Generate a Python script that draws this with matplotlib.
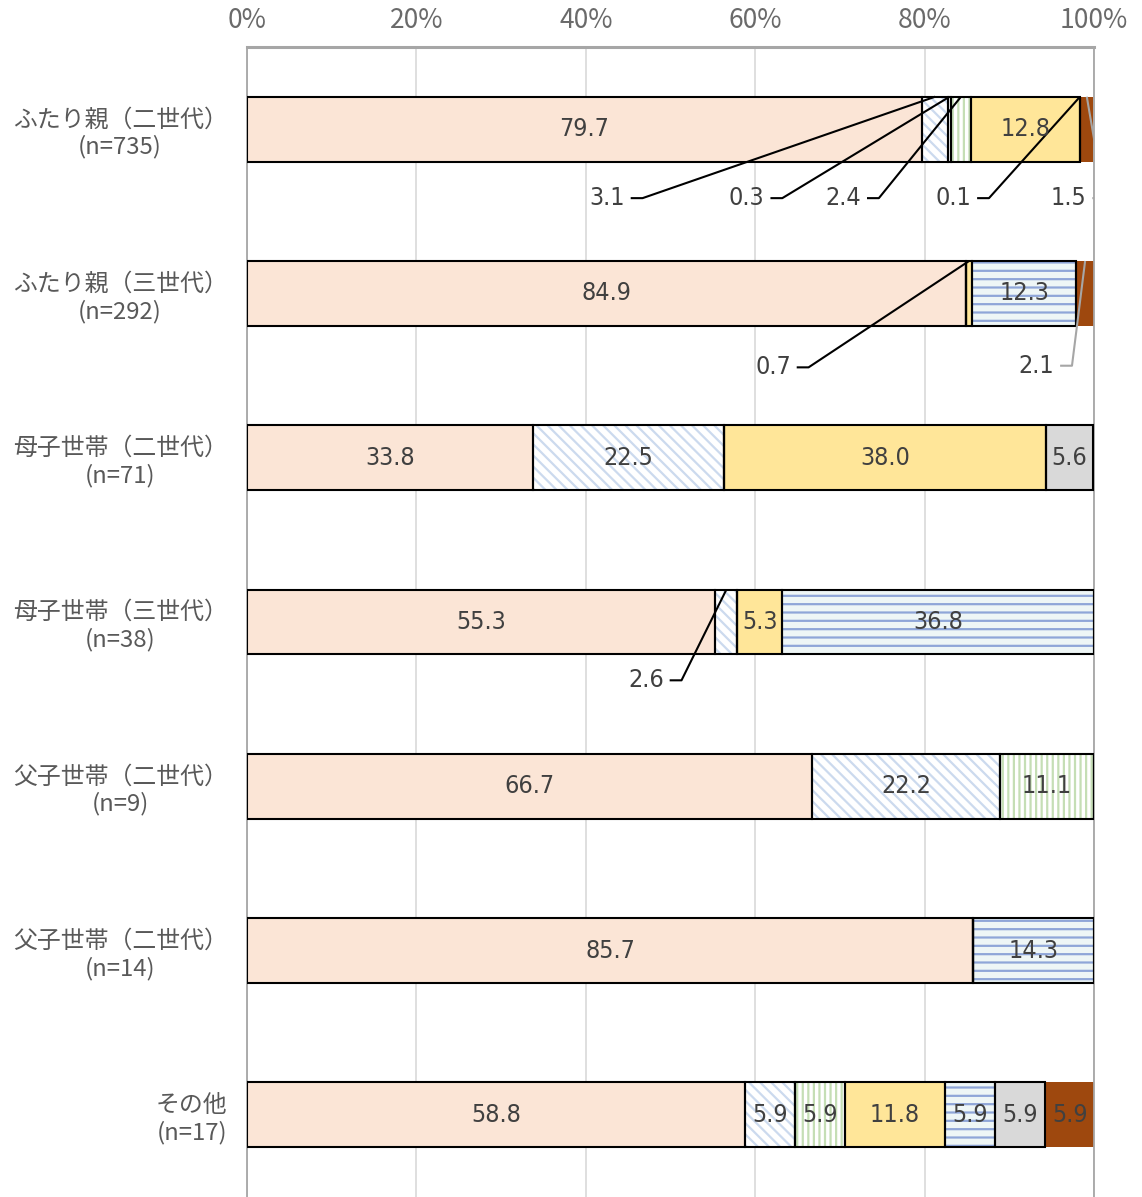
import matplotlib
matplotlib.use("Agg")
import matplotlib.pyplot as plt

plt.rcParams['font.family'] = ['Noto Sans CJK JP', 'DejaVu Sans']
plt.rcParams['hatch.linewidth'] = 1.6

# ---------------- data ----------------
categories = ["ふたり親（二世代）\n(n=735)", "ふたり親（三世代）\n(n=292)",
              "母子世帯（二世代）\n(n=71)", "母子世帯（三世代）\n(n=38)",
              "父子世帯（二世代）\n(n=9)", "父子世帯（二世代）\n(n=14)",
              "その他\n(n=17)"]
s_pink   = [79.7, 84.9, 33.8, 55.3, 66.7, 85.7, 58.8]
s_diag   = [3.1, 0.0, 22.5, 2.6, 22.2, 0.0, 5.9]
s_thin   = [0.3, 0.0, 0.0, 0.0, 0.0, 0.0, 0.0]
s_green  = [2.4, 0.0, 0.0, 0.0, 11.1, 0.0, 5.9]
s_yellow = [12.8, 0.7, 38.0, 5.3, 0.0, 0.0, 11.8]
s_blue   = [0.1, 12.3, 0.0, 36.8, 0.0, 14.3, 5.9]
s_gray   = [0.0, 0.0, 5.6, 0.0, 0.0, 0.0, 5.9]
s_brown  = [1.5, 2.1, 0.0, 0.0, 0.0, 0.0, 5.9]
ticks = [0, 20, 40, 60, 80, 100]

# (row, series index, label x in %, label y offset) for small segments
callouts = [(0, 1, 42.5, 0.42), (0, 2, 59.0, 0.42), (0, 3, 70.4, 0.42),
            (0, 5, 83.4, 0.42), (0, 7, 97.0, 0.42),
            (1, 4, 62.1, 0.45), (1, 7, 93.2, 0.44),
            (3, 1, 47.1, 0.355)]

series = [s_pink, s_diag, s_thin, s_green, s_yellow, s_blue, s_gray, s_brown]
# face, hatch, hatch colour, draw black edge
styles = [("#FBE5D6", None, None, True),
          ("white", "\\\\\\", "#CCDAEE", True),
          ("white", None, None, True),
          ("white", "|||", "#C5DEB5", True),
          ("#FFE699", None, None, True),
          ("#EEF6F6", "--", "#8FA6D8", True),
          ("#D9D9D9", None, None, True),
          ("#9E480E", None, None, False)]

num_font = dict(family=['DejaVu Sans'], fontstretch='condensed', fontsize=18,
                color="#404040")

fig = plt.figure(figsize=(11.42, 11.97), dpi=100)
ax = fig.add_axes([247/1142, 0, 847/1142, 1150/1197])

y = list(range(len(categories)))
h = 0.395
left = [0.0] * len(categories)
for vals, (fc, hatch, hc, edge) in zip(series, styles):
    ax.barh(y, vals, left=left, height=h, color=fc, linewidth=0, zorder=2)
    if hatch:
        ax.barh(y, vals, left=left, height=h, color="none", edgecolor=hc,
                hatch=hatch, linewidth=0, zorder=3)
    if edge:
        ax.barh(y, vals, left=left, height=h, color="none", edgecolor="black",
                linewidth=1.5, zorder=4)
    for i, v in enumerate(vals):
        if v >= 5:
            ax.text(left[i] + v / 2, i, f"{v:.1f}", ha="center", va="center",
                    zorder=6, **num_font)
    left = [l + v for l, v in zip(left, vals)]

# callouts with leader lines
for row, si, lx, dy in callouts:
    start = sum(s[row] for s in series[:si])
    v = series[si][row]
    xc = start + v / 2
    ly = row + dy
    col = "#A6A6A6" if si == 7 else "black"
    ax.plot([lx + 2.8, lx + 4.2, xc], [ly, ly, row - h / 2], color=col,
            linewidth=1.5, zorder=5, solid_capstyle="butt")
    ax.text(lx, ly, f"{v:.1f}", ha="center", va="center", zorder=6, **num_font)

ax.set_xlim(0, 100)
ax.set_ylim(6.5, -0.5)
ax.set_xticks(ticks)
ax.set_xticklabels([f"{t}%" for t in ticks])
ax.xaxis.tick_top()
ax.tick_params(axis="x", length=0, pad=9, labelsize=19, labelcolor="#6A6A6A")
ax.set_yticks(y)
ax.set_yticklabels(categories, fontsize=17.2, color="#595959",
                   multialignment="center", linespacing=1.2)
ax.tick_params(axis="y", length=0, pad=14)
ax.grid(axis="x", color="#D9D9D9", linewidth=1.2, zorder=0)
ax.set_axisbelow(True)
for sp in ["top", "left", "right"]:
    ax.spines[sp].set_color("#A6A6A6")
    ax.spines[sp].set_linewidth(1.3)
ax.spines["top"].set_linewidth(2.2)
ax.spines["bottom"].set_visible(False)

fig.savefig("out.png", dpi=100)
